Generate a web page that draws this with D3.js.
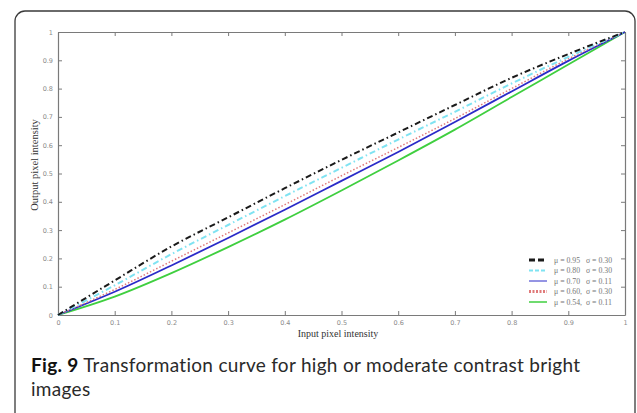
<!DOCTYPE html>
<html>
<head>
<meta charset="utf-8">
<script src="https://cdn.jsdelivr.net/npm/d3@7"></script>
<style>
  body { margin: 0; background: #fff; }
</style>
</head>
<body>
<svg id="chart" width="637" height="413"></svg>
<script>
// input intensity samples
let inputs = [0, 0.1, 0.2, 0.3, 0.4, 0.5, 0.6, 0.7, 0.8, 0.9, 1];

// output intensity for each curve
let curve95 = [0, 0.122, 0.242, 0.345, 0.448, 0.548, 0.645, 0.742, 0.838, 0.922, 1];
let curve80 = [0, 0.105, 0.215, 0.318, 0.42, 0.52, 0.62, 0.718, 0.818, 0.912, 1];
let curve70 = [0, 0.082, 0.175, 0.272, 0.372, 0.474, 0.576, 0.682, 0.79, 0.898, 1];
let curve60 = [0, 0.09, 0.19, 0.29, 0.39, 0.492, 0.592, 0.694, 0.8, 0.905, 1];
let curve54 = [0, 0.065, 0.148, 0.24, 0.337, 0.44, 0.546, 0.655, 0.77, 0.885, 1];

let legendLabels = [
    "\u03bc = 0.95   \u03c3 = 0.30",
    "\u03bc = 0.80   \u03c3 = 0.30",
    "\u03bc = 0.70   \u03c3 = 0.11",
    "\u03bc = 0.60,  \u03c3 = 0.30",
    "\u03bc = 0.54,  \u03c3 = 0.11"
];

let tickValues = [0, 0.1, 0.2, 0.3, 0.4, 0.5, 0.6, 0.7, 0.8, 0.9, 1];

let series = [
    { values: curve95, color: "#1a1a1a", width: 2, dash: "6,3,1.5,3", legendDash: "6,3", legendWidth: 3 },
    { values: curve80, color: "#7fe3f2", width: 2, dash: "6,3,1.5,3", legendDash: "4,2", legendWidth: 2 },
    { values: curve70, color: "#2b2bc8", width: 1.8, dash: null, legendDash: null, legendWidth: 1 },
    { values: curve60, color: "#e07a7a", width: 1.5, dash: "1.5,2", legendDash: "2,1.5", legendWidth: 3 },
    { values: curve54, color: "#3fcf3f", width: 1.8, dash: null, legendDash: null, legendWidth: 1.5 }
];

let svg = d3.select("#chart");
let margin = { left: 58, right: 12, top: 32, bottom: 98 };
let width = 637, height = 413;

// page frame with rounded corners
svg.append("rect")
    .attr("x", 15)
    .attr("y", 11)
    .attr("width", 620)
    .attr("height", 440)
    .attr("rx", 10)
    .attr("fill", "white")
    .attr("stroke", "#3a3a3a")
    .attr("stroke-width", 1.3);

let x = d3.scaleLinear().domain([0, 1]).range([margin.left, width - margin.right]);
let y = d3.scaleLinear().domain([0, 1]).range([height - margin.bottom, margin.top]);

let axisColor = "#7a7a7a";

// box style axes: ticks point inward on all four sides
let fmt = d => d === 0 || d === 1 ? d3.format("d")(d) : d3.format(".1f")(d);

let gBottom = svg.append("g")
    .attr("transform", "translate(0," + y(0) + ")")
    .call(d3.axisBottom(x).tickValues(tickValues).tickSizeInner(-4).tickSizeOuter(0).tickPadding(5).tickFormat(fmt));
let gTop = svg.append("g")
    .attr("transform", "translate(0," + y(1) + ")")
    .call(d3.axisTop(x).tickValues(tickValues).tickSizeInner(-4).tickSizeOuter(0).tickFormat(""));
let gLeft = svg.append("g")
    .attr("transform", "translate(" + x(0) + ",0)")
    .call(d3.axisLeft(y).tickValues(tickValues).tickSizeInner(-4).tickSizeOuter(0).tickPadding(5).tickFormat(fmt));
let gRight = svg.append("g")
    .attr("transform", "translate(" + x(1) + ",0)")
    .call(d3.axisRight(y).tickValues(tickValues).tickSizeInner(-4).tickSizeOuter(0).tickFormat(""));

[gBottom, gTop, gLeft, gRight].forEach(g => {
    g.select(".domain").attr("stroke", axisColor).attr("stroke-width", 1.2);
    g.selectAll(".tick line").attr("stroke", axisColor);
    g.selectAll(".tick text")
        .attr("fill", "#8a8a8a")
        .attr("font-family", "DejaVu Sans, sans-serif")
        .attr("font-size", 6.5);
});

// curves
let line = d3.line()
    .x((d, i) => x(inputs[i]))
    .y(d => y(d))
    .curve(d3.curveMonotoneX);

// draw bottom-most first so the dashed curves stay on top
[4, 2, 3, 1, 0].forEach(k => {
    let s = series[k];
    svg.append("path")
        .datum(s.values)
        .attr("d", line)
        .attr("fill", "none")
        .attr("stroke", s.color)
        .attr("stroke-width", s.width)
        .attr("stroke-dasharray", s.dash);
});

// legend
let legend = svg.append("g").attr("transform", "translate(529,260)");
series.forEach((s, i) => {
    legend.append("line")
        .attr("x1", 0)
        .attr("x2", 18)
        .attr("y1", i * 10.5)
        .attr("y2", i * 10.5)
        .attr("stroke", s.color)
        .attr("stroke-width", s.legendWidth)
        .attr("stroke-dasharray", s.legendDash);
    legend.append("text")
        .text(legendLabels[i])
        .attr("x", 25)
        .attr("y", i * 10.5)
        .attr("dominant-baseline", "central")
        .attr("font-family", "Liberation Serif, serif")
        .attr("font-size", 7.8)
        .attr("fill", "#777")
        .style("white-space", "pre");
});

// axis titles
svg.append("text")
    .text("Input pixel intensity")
    .attr("x", 338)
    .attr("y", 337)
    .attr("text-anchor", "middle")
    .attr("font-family", "Liberation Serif, serif")
    .attr("font-size", 10)
    .attr("fill", "#333");

svg.append("text")
    .text("Output pixel intensity")
    .attr("transform", "translate(38,165) rotate(-90)")
    .attr("text-anchor", "middle")
    .attr("font-family", "Liberation Serif, serif")
    .attr("font-size", 10.5)
    .attr("fill", "#333");

// figure caption
let caption = svg.append("text")
    .attr("x", 31)
    .attr("y", 372)
    .attr("font-family", "Lato, sans-serif")
    .attr("font-size", 19)
    .attr("letter-spacing", 0.3)
    .style("font-variant-ligatures", "none")
    .attr("fill", "#2a2a2a");
caption.append("tspan").attr("font-weight", "bold").attr("fill", "#111").text("Fig. 9");
caption.append("tspan").text(" Transformation curve for high or moderate contrast bright");

svg.append("text")
    .text("images")
    .attr("x", 31)
    .attr("y", 396)
    .attr("font-family", "Lato, sans-serif")
    .attr("font-size", 19)
    .attr("letter-spacing", 0.3)
    .attr("fill", "#2a2a2a");
</script>
</body>
</html>
